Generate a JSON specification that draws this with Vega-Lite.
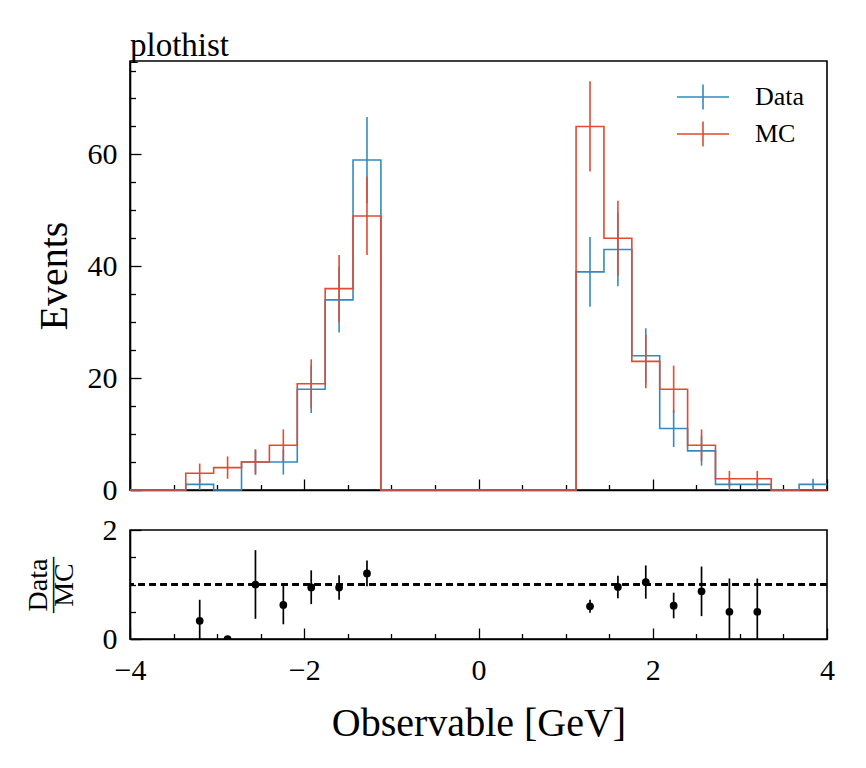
{
  "$schema": "https://vega.github.io/schema/vega-lite/v6.json",
  "padding": {"left": 23, "top": 29, "right": 5, "bottom": 5},
  "background": "white",
  "config": {
    "font": "Liberation Serif",
    "view": {"stroke": "black", "strokeWidth": 1.6},
    "axis": {
      "zindex": 1,
      "grid": false,
      "domainColor": "black",
      "domainWidth": 1.6,
      "tickColor": "black",
      "tickWidth": 1.3,
      "labelFont": "Liberation Serif",
      "labelFontSize": 30,
      "labelColor": "black",
      "labelFlush": false,
      "titleFont": "Liberation Serif",
      "titleFontSize": 40,
      "titleFontWeight": "normal",
      "titleColor": "black"
    }
  },
  "datasets": {
    "hist": [
      {"lo": -4, "hi": -3.68, "center": -3.84, "Data": 0, "Data_err": 0, "MC": 0, "MC_err": 0},
      {"lo": -3.68, "hi": -3.36, "center": -3.52, "Data": 0, "Data_err": 0, "MC": 0, "MC_err": 0},
      {"lo": -3.36, "hi": -3.04, "center": -3.2, "Data": 1, "Data_err": 1, "MC": 3, "MC_err": 1.73},
      {"lo": -3.04, "hi": -2.72, "center": -2.88, "Data": 0, "Data_err": 0, "MC": 4, "MC_err": 2},
      {"lo": -2.72, "hi": -2.4, "center": -2.56, "Data": 5, "Data_err": 2.24, "MC": 5, "MC_err": 2.24},
      {"lo": -2.4, "hi": -2.08, "center": -2.24, "Data": 5, "Data_err": 2.24, "MC": 8, "MC_err": 2.83},
      {"lo": -2.08, "hi": -1.76, "center": -1.92, "Data": 18, "Data_err": 4.24, "MC": 19, "MC_err": 4.36},
      {"lo": -1.76, "hi": -1.44, "center": -1.6, "Data": 34, "Data_err": 5.83, "MC": 36, "MC_err": 6},
      {"lo": -1.44, "hi": -1.12, "center": -1.28, "Data": 59, "Data_err": 7.68, "MC": 49, "MC_err": 7},
      {"lo": -1.12, "hi": -0.8, "center": -0.96, "Data": 0, "Data_err": 0, "MC": 0, "MC_err": 0},
      {"lo": -0.8, "hi": -0.48, "center": -0.64, "Data": 0, "Data_err": 0, "MC": 0, "MC_err": 0},
      {"lo": -0.48, "hi": -0.16, "center": -0.32, "Data": 0, "Data_err": 0, "MC": 0, "MC_err": 0},
      {"lo": -0.16, "hi": 0.16, "center": 0, "Data": 0, "Data_err": 0, "MC": 0, "MC_err": 0},
      {"lo": 0.16, "hi": 0.48, "center": 0.32, "Data": 0, "Data_err": 0, "MC": 0, "MC_err": 0},
      {"lo": 0.48, "hi": 0.8, "center": 0.64, "Data": 0, "Data_err": 0, "MC": 0, "MC_err": 0},
      {"lo": 0.8, "hi": 1.12, "center": 0.96, "Data": 0, "Data_err": 0, "MC": 0, "MC_err": 0},
      {"lo": 1.12, "hi": 1.44, "center": 1.28, "Data": 39, "Data_err": 6.24, "MC": 65, "MC_err": 8.06},
      {"lo": 1.44, "hi": 1.76, "center": 1.6, "Data": 43, "Data_err": 6.56, "MC": 45, "MC_err": 6.71},
      {"lo": 1.76, "hi": 2.08, "center": 1.92, "Data": 24, "Data_err": 4.9, "MC": 23, "MC_err": 4.8},
      {"lo": 2.08, "hi": 2.4, "center": 2.24, "Data": 11, "Data_err": 3.32, "MC": 18, "MC_err": 4.24},
      {"lo": 2.4, "hi": 2.72, "center": 2.56, "Data": 7, "Data_err": 2.65, "MC": 8, "MC_err": 2.83},
      {"lo": 2.72, "hi": 3.04, "center": 2.88, "Data": 1, "Data_err": 1, "MC": 2, "MC_err": 1.41},
      {"lo": 3.04, "hi": 3.36, "center": 3.2, "Data": 1, "Data_err": 1, "MC": 2, "MC_err": 1.41},
      {"lo": 3.36, "hi": 3.68, "center": 3.52, "Data": 0, "Data_err": 0, "MC": 0, "MC_err": 0},
      {"lo": 3.68, "hi": 4, "center": 3.84, "Data": 1, "Data_err": 1, "MC": 0, "MC_err": 0}
    ],
    "ratio": [
      {"center": -3.2, "ratio": 0.333, "lo": 0, "hi": 0.72},
      {"center": -2.88, "ratio": 0, "lo": 0, "hi": 0},
      {"center": -2.56, "ratio": 1, "lo": 0.37, "hi": 1.63},
      {"center": -2.24, "ratio": 0.625, "lo": 0.27, "hi": 0.98},
      {"center": -1.92, "ratio": 0.947, "lo": 0.64, "hi": 1.26},
      {"center": -1.6, "ratio": 0.944, "lo": 0.72, "hi": 1.17},
      {"center": -1.28, "ratio": 1.204, "lo": 0.97, "hi": 1.44},
      {"center": 1.28, "ratio": 0.6, "lo": 0.48, "hi": 0.72},
      {"center": 1.6, "ratio": 0.956, "lo": 0.75, "hi": 1.16},
      {"center": 1.92, "ratio": 1.043, "lo": 0.74, "hi": 1.35},
      {"center": 2.24, "ratio": 0.611, "lo": 0.38, "hi": 0.85},
      {"center": 2.56, "ratio": 0.875, "lo": 0.42, "hi": 1.33},
      {"center": 2.88, "ratio": 0.5, "lo": 0, "hi": 1.11},
      {"center": 3.2, "ratio": 0.5, "lo": 0, "hi": 1.11}
    ]
  },
  "bounds": "flush",
  "spacing": 40,
  "vconcat": [
    {
      "width": 697,
      "height": 429,
      "title": {
        "text": "plothist",
        "anchor": "start",
        "frame": "group",
        "font": "Liberation Serif",
        "fontSize": 33,
        "fontWeight": "normal",
        "color": "black",
        "offset": -2
      },
      "data": {"name": "hist"},
      "layer": [
        {
          "transform": [{"fold": ["lo", "hi"], "as": ["edge", "x"]}],
          "mark": {"type": "line", "strokeWidth": 1.6, "strokeJoin": "miter"},
          "encoding": {
            "x": {
              "field": "x", "type": "quantitative",
              "scale": {"domain": [-4, 4], "nice": false, "zero": false},
              "axis": {"orient": "bottom", "values": [-4, -2, 0, 2, 4], "tickSize": -11, "labels": false, "title": null}
            },
            "y": {
              "field": "Data", "type": "quantitative",
              "scale": {"domain": [0, 76.7], "nice": false},
              "axis": {"orient": "left", "values": [0, 20, 40, 60], "tickSize": -11, "labelPadding": 24, "title": "Events", "titleFontSize": 40, "titlePadding": 13}
            },
            "order": [{"field": "x", "type": "quantitative"}, {"field": "edge", "type": "nominal"}],
            "color": {
              "datum": "Data", "type": "nominal",
              "scale": {"domain": ["Data", "MC"], "range": ["#348ABD", "#E24A33"]},
              "legend": {
                "title": null,
                "orient": "top-right",
                "offset": 22,
                "padding": 0,
                "symbolType": "M-2,0H2M0,-0.96V0.96",
                "symbolSize": 676,
                "symbolStrokeWidth": 1.6,
                "labelFont": "Liberation Serif",
                "labelFontSize": 26,
                "labelColor": "black",
                "labelOffset": 38,
                "rowPadding": 5
              }
            }
          }
        },
        {
          "mark": {"type": "errorbar", "ticks": false, "color": "#348ABD", "thickness": 1.6},
          "encoding": {
            "x": {"field": "center", "type": "quantitative", "axis": null},
            "y": {"field": "Data", "type": "quantitative", "axis": null},
            "yError": {"field": "Data_err"}
          }
        },
        {
          "transform": [{"fold": ["lo", "hi"], "as": ["edge", "x"]}],
          "mark": {"type": "line", "strokeWidth": 1.6, "strokeJoin": "miter"},
          "encoding": {
            "x": {
              "field": "x", "type": "quantitative",
              "axis": {"orient": "bottom", "values": [-3.5, -3, -2.5, -1.5, -1, -0.5, 0.5, 1, 1.5, 2.5, 3, 3.5], "tickSize": -5.5, "labels": false, "domain": false, "title": null}
            },
            "y": {
              "field": "MC", "type": "quantitative",
              "axis": {"orient": "left", "values": [5, 10, 15, 25, 30, 35, 45, 50, 55, 65, 70, 75], "tickSize": -5.5, "labels": false, "domain": false, "title": null}
            },
            "order": [{"field": "x", "type": "quantitative"}, {"field": "edge", "type": "nominal"}],
            "color": {"datum": "MC", "type": "nominal"}
          }
        },
        {
          "mark": {"type": "errorbar", "ticks": false, "color": "#E24A33", "thickness": 1.6},
          "encoding": {
            "x": {"field": "center", "type": "quantitative", "axis": null},
            "y": {"field": "MC", "type": "quantitative", "axis": null},
            "yError": {"field": "MC_err"}
          }
        }
      ],
      "resolve": {"axis": {"x": "independent", "y": "independent"}}
    },
    {
      "width": 697,
      "height": 109,
      "data": {"name": "ratio"},
      "layer": [
        {
          "mark": {"type": "rule", "strokeDash": [6.5, 4.5], "strokeWidth": 1.6, "color": "black"},
          "encoding": {
            "y": {"datum": 1, "type": "quantitative", "scale": {"domain": [0, 2], "nice": false}, "axis": null}
          }
        },
        {
          "mark": {"type": "rule", "strokeWidth": 1.7, "color": "black"},
          "encoding": {
            "x": {
              "field": "center", "type": "quantitative",
              "scale": {"domain": [-4, 4], "nice": false, "zero": false},
              "axis": {"orient": "bottom", "values": [-4, -2, 0, 2, 4], "tickSize": -11, "labelPadding": 27, "title": "Observable [GeV]", "titlePadding": 18}
            },
            "y": {
              "field": "lo", "type": "quantitative",
              "axis": {"orient": "left", "values": [0, 2], "tickSize": -11, "labelPadding": 24, "title": ["Data", "——", "MC"], "titleFontSize": 28, "titleLineHeight": 13, "titlePadding": 24}
            },
            "y2": {"field": "hi"}
          }
        },
        {
          "mark": {"type": "point", "filled": true, "shape": "circle", "size": 60, "color": "black", "opacity": 1, "clip": true},
          "encoding": {
            "x": {
              "field": "center", "type": "quantitative",
              "axis": {"orient": "bottom", "values": [-3.5, -3, -2.5, -1.5, -1, -0.5, 0.5, 1, 1.5, 2.5, 3, 3.5], "tickSize": -5.5, "labels": false, "domain": false, "title": null}
            },
            "y": {
              "field": "ratio", "type": "quantitative",
              "axis": {"orient": "left", "values": [0.5, 1, 1.5], "tickSize": -5.5, "labels": false, "domain": false, "title": null}
            }
          }
        }
      ],
      "resolve": {"axis": {"x": "independent", "y": "independent"}}
    }
  ]
}
